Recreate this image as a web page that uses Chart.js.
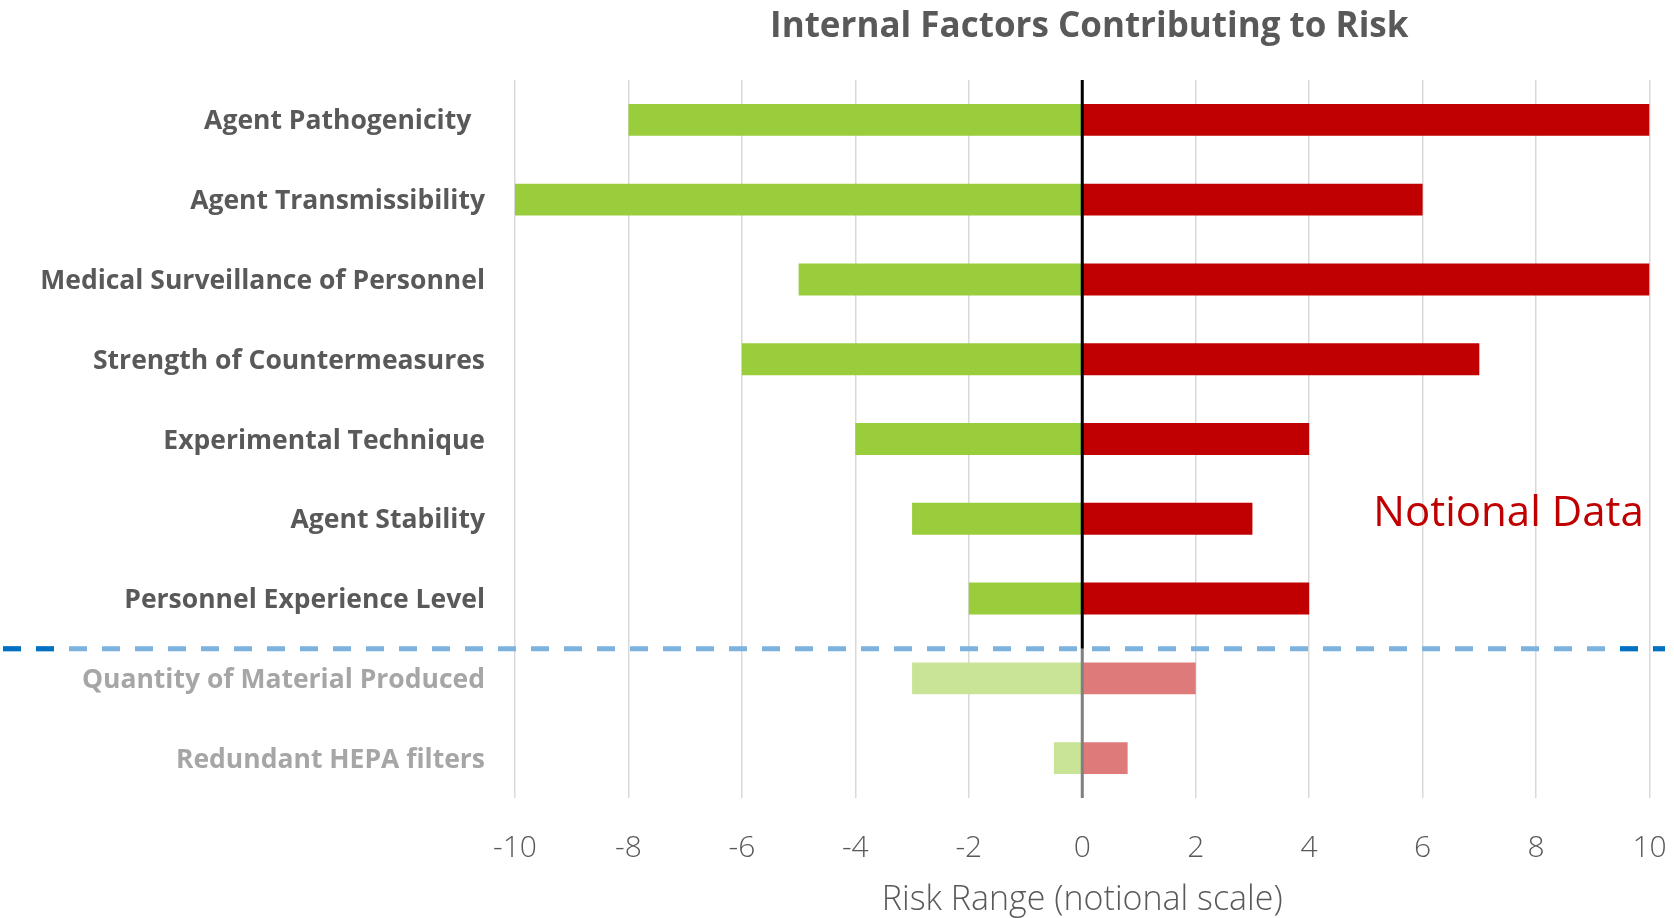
<!DOCTYPE html>
<html>
<head>
<meta charset="utf-8">
<script src="https://cdn.jsdelivr.net/npm/chart.js@4.4.0/dist/chart.umd.min.js"></script>
<style>
  html, body { margin: 0; padding: 0; background: #ffffff; }
  #wrap { width: 1674px; height: 918px; position: relative; }
</style>
</head>
<body>
<div id="wrap"><canvas id="riskChart" width="1674" height="918"></canvas></div>
<script>
// Factors, top to bottom
const factors = [
    'Agent Pathogenicity  ',
    'Agent Transmissibility',
    'Medical Surveillance of Personnel',
    'Strength of Countermeasures',
    'Experimental Technique',
    'Agent Stability',
    'Personnel Experience Level',
    'Quantity of Material Produced',
    'Redundant HEPA filters'
];
// low / high end of the risk range for each factor
const lowRisk = [-8, -10, -5, -6, -4, -3, -2, -3, -0.5];
const highRisk = [10, 6, 10, 7, 4, 3, 4, 2, 0.8];
// the first 7 factors are the main ones, the rest are shown faded
const mainCount = 7;
const xTicks = [-10, -8, -6, -4, -2, 0, 2, 4, 6, 8, 10];

const GREEN = '#9ACD3B', GREEN_FADED = '#C9E497';
const RED = '#C00000', RED_FADED = '#DF7A7A';
const TEXT = '#595959', TEXT_FADED = '#A6A6A6';

const colorsFor = (full, faded) => factors.map((f, i) => i < mainCount ? full : faded);

// draws title, separator, zero line and the "Notional Data" note
const extras = {
    id: 'extras',
    afterDatasetsDraw(chart) {
        const { ctx, chartArea, scales: { x, y } } = chart;
        const zx = x.getPixelForValue(0);
        const sepY = y.getPixelForValue(mainCount - 0.37);
        ctx.save();
        // zero line
        ctx.lineWidth = 3;
        ctx.strokeStyle = '#000000';
        ctx.beginPath();
        ctx.moveTo(zx, chartArea.top);
        ctx.lineTo(zx, sepY);
        ctx.stroke();
        ctx.strokeStyle = '#808080';
        ctx.beginPath();
        ctx.moveTo(zx, sepY);
        ctx.lineTo(zx, chartArea.bottom);
        ctx.stroke();
        // separator between main and faded factors
        const dash = 18, period = 33, x0 = 3, x1 = chart.width - 9;
        ctx.lineWidth = 5;
        ctx.setLineDash([dash, period - dash]);
        ctx.strokeStyle = '#7DB2DF';
        ctx.beginPath();
        ctx.moveTo(x0, sepY);
        ctx.lineTo(x1, sepY);
        ctx.stroke();
        const lastStart = x0 + period * (Math.floor((x1 - x0) / period) - 1);
        ctx.strokeStyle = '#0070C0';
        ctx.beginPath();
        ctx.moveTo(x0, sepY);
        ctx.lineTo(x0 + period + dash, sepY);
        ctx.moveTo(lastStart, sepY);
        ctx.lineTo(x1, sepY);
        ctx.stroke();
        ctx.setLineDash([]);
        // note
        ctx.fillStyle = '#C00000';
        ctx.font = '42px "Open Sans", sans-serif';
        ctx.textAlign = 'right';
        ctx.textBaseline = 'middle';
        ctx.fillText('Notional Data', x.getPixelForValue(9.9), y.getPixelForValue(4.94));
        // title
        ctx.fillStyle = TEXT;
        ctx.font = 'bold 35px "Open Sans", sans-serif';
        ctx.textAlign = 'center';
        ctx.fillText('Internal Factors Contributing to Risk', (chartArea.left + chartArea.right) / 2 + 7, 27);
        ctx.restore();
    }
};

new Chart(document.getElementById('riskChart'), {
    type: 'bar',
    data: {
        labels: factors,
        datasets: [
            {
                label: 'Low',
                data: lowRisk,
                backgroundColor: colorsFor(GREEN, GREEN_FADED),
                barPercentage: 0.4,
                categoryPercentage: 1
            },
            {
                label: 'High',
                data: highRisk,
                backgroundColor: colorsFor(RED, RED_FADED),
                barPercentage: 0.4,
                categoryPercentage: 1
            }
        ]
    },
    options: {
        indexAxis: 'y',
        responsive: false,
        animation: false,
        layout: { padding: { top: 80, right: 24.5, left: 0, bottom: 0 } },
        plugins: {
            legend: { display: false },
            title: { display: false },
            tooltip: { enabled: false }
        },
        scales: {
            x: {
                stacked: true,
                min: -10,
                max: 10,
                afterBuildTicks: s => { s.ticks = xTicks.map(v => ({ value: v })); },
                afterFit: s => { s.height = 120; s.paddingLeft = 0; s.paddingRight = 0; },
                grid: { color: '#D9D9D9', lineWidth: 1.5, drawTicks: false },
                border: { display: false },
                ticks: {
                    padding: 32,
                    color: TEXT,
                    font: { family: '"Open Sans", sans-serif', size: 30, weight: '300' }
                },
                title: {
                    display: true,
                    text: 'Risk Range (notional scale)',
                    color: TEXT,
                    padding: { top: 0, bottom: 1 },
                    font: { family: '"Open Sans", sans-serif', size: 34, weight: '300', lineHeight: 1 }
                }
            },
            y: {
                stacked: true,
                afterFit: s => { s.width = 515; },
                grid: { display: false, drawTicks: false },
                border: { display: false },
                ticks: {
                    padding: 30,
                    labelOffset: 2,
                    color: ctx => ctx.index < mainCount ? TEXT : TEXT_FADED,
                    font: { family: '"Open Sans", sans-serif', size: 26.5, weight: 'bold' }
                }
            }
        }
    },
    plugins: [extras]
});
</script>
</body>
</html>
